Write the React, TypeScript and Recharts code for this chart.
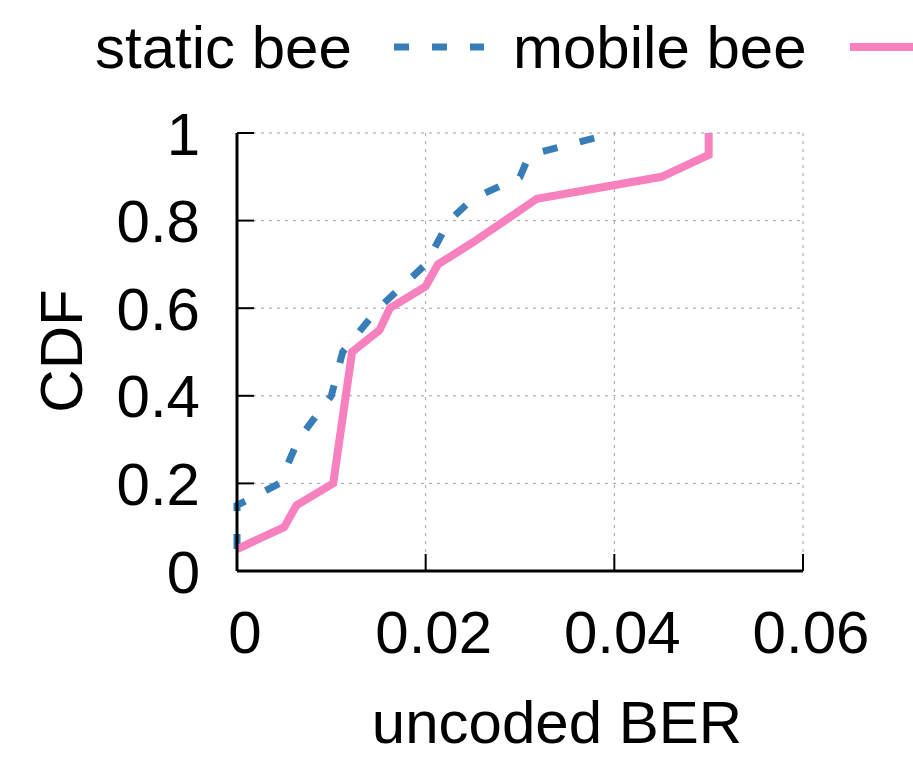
import { LineChart, Line, XAxis, YAxis, CartesianGrid, Legend } from 'recharts'

// CDF samples
const staticBer = [0, 0, 0.0045, 0.0065, 0.01, 0.0112, 0.015, 0.02, 0.0225, 0.025, 0.03, 0.031, 0.04]
const staticCdf = [0.05, 0.15, 0.2, 0.3, 0.4, 0.5, 0.6, 0.7, 0.8, 0.85, 0.9, 0.95, 1.0]

const mobileBer = [0, 0.005, 0.0063, 0.0102, 0.0122, 0.0151, 0.0162, 0.02, 0.0213, 0.025, 0.0318, 0.045, 0.05, 0.05]
const mobileCdf = [0.05, 0.1, 0.15, 0.2, 0.5, 0.55, 0.6, 0.65, 0.7, 0.75, 0.85, 0.9, 0.95, 1.0]

const xTicks = [0, 0.02, 0.04, 0.06]
const xTickLabels = ['0', '0.02', '0.04', '0.06']
const yTicks = [0, 0.2, 0.4, 0.6, 0.8, 1]
const yTickLabels = ['0', '0.2', '0.4', '0.6', '0.8', '1']
const seriesNames = ['static bee', 'mobile bee']

const STATIC_COLOR = '#377eb8'
const MOBILE_COLOR = '#f781bf'
const FONT = '"Liberation Sans", Arial, Helvetica, sans-serif'
const TICK = 17

const staticData = staticBer.map((x, i) => ({ x, cdf: staticCdf[i] }))
const mobileData = mobileBer.map((x, i) => ({ x, cdf: mobileCdf[i] }))

const BottomTick = ({ x, y, payload }: any) => (
  <g>
    <line x1={x} y1={y} x2={x} y2={y - TICK} stroke="#000" strokeWidth={2} />
    <text x={x + 8} y={y + 82} textAnchor="middle" fontSize={60} fontFamily={FONT} fill="#000">
      {xTickLabels[xTicks.indexOf(payload.value)]}
    </text>
  </g>
)

const LeftTick = ({ x, y, payload }: any) => (
  <g>
    <line x1={x} y1={y} x2={x + TICK} y2={y} stroke="#000" strokeWidth={2} />
    <text x={x - 37} y={y + 21.5} textAnchor="end" fontSize={60} fontFamily={FONT} fill="#000">
      {yTickLabels[yTicks.indexOf(payload.value)]}
    </text>
  </g>
)

const TopTick = ({ x, y }: any) => (
  <line x1={x} y1={y} x2={x} y2={y + TICK} stroke="#000" strokeWidth={2} />
)

const RightTick = ({ x, y }: any) => (
  <line x1={x} y1={y} x2={x - TICK} y2={y} stroke="#000" strokeWidth={2} />
)

const KeyBox = () => (
  <svg width={913} height={100} style={{ display: 'block' }}>
    <text x={95} y={68} fontSize={60} fontFamily={FONT} fill="#000">{seriesNames[0]}</text>
    <line x1={394} y1={47} x2={484} y2={47} stroke={STATIC_COLOR} strokeWidth={7} strokeDasharray="15 23" />
    <text x={513} y={68} fontSize={60} fontFamily={FONT} fill="#000">{seriesNames[1]}</text>
    <line x1={850} y1={47} x2={913} y2={47} stroke={MOBILE_COLOR} strokeWidth={8} />
  </svg>
)

export default function App() {
  return (
    <div style={{ position: 'absolute', left: 0, top: 0, background: '#fff' }}>
      <LineChart width={913} height={766} margin={{ top: 0, right: 0, bottom: 0, left: 0 }}>
        <CartesianGrid stroke="#a0a0a0" strokeWidth={1} strokeDasharray="3 5" />
        <XAxis
          dataKey="x"
          type="number"
          domain={[0, 0.06]}
          ticks={xTicks}
          height={195}
          tickSize={0}
          tickMargin={0}
          tick={BottomTick}
          axisLine={{ stroke: '#000', strokeWidth: 3 }}
          tickLine={false}
          label={(p: any) => {
            const vb = p.viewBox
            return (
              <text x={vb.x + vb.width / 2 + 37} y={vb.y + 172} textAnchor="middle" fontSize={60} fontFamily={FONT} fill="#000">
                uncoded BER
              </text>
            )
          }}
        />
        <XAxis
          xAxisId="top"
          orientation="top"
          dataKey="x"
          type="number"
          domain={[0, 0.06]}
          ticks={xTicks}
          height={133}
          tickSize={0}
          tickMargin={0}
          tick={TopTick}
          axisLine={false}
          tickLine={false}
        />
        <YAxis
          type="number"
          domain={[0, 1]}
          ticks={yTicks}
          width={237}
          tickSize={0}
          tickMargin={0}
          tick={LeftTick}
          axisLine={{ stroke: '#000', strokeWidth: 3 }}
          tickLine={false}
          label={(p: any) => {
            const vb = p.viewBox
            const cy = vb.y + vb.height / 2 - 1
            return (
              <text x={82} y={cy} transform={`rotate(-90, 82, ${cy})`} textAnchor="middle" fontSize={60} fontFamily={FONT} fill="#000">
                CDF
              </text>
            )
          }}
        />
        <YAxis
          yAxisId="right"
          orientation="right"
          type="number"
          domain={[0, 1]}
          ticks={yTicks}
          width={110}
          tickSize={0}
          tickMargin={0}
          tick={RightTick}
          axisLine={false}
          tickLine={false}
        />
        <Legend
          layout="horizontal"
          verticalAlign="middle"
          align="center"
          content={() => <KeyBox />}
          wrapperStyle={{ position: 'absolute', left: 0, top: 0, width: 913, height: 100 }}
        />
        <Line
          data={staticData}
          dataKey="cdf"
          name={seriesNames[0]}
          type="linear"
          stroke={STATIC_COLOR}
          strokeWidth={7}
          strokeDasharray="15 23"
          strokeLinecap="butt"
          dot={false}
          activeDot={false}
          isAnimationActive={false}
        />
        <Line
          data={mobileData}
          dataKey="cdf"
          name={seriesNames[1]}
          type="linear"
          stroke={MOBILE_COLOR}
          strokeWidth={8}
          strokeLinejoin="miter"
          dot={false}
          activeDot={false}
          isAnimationActive={false}
        />
      </LineChart>
    </div>
  )
}
